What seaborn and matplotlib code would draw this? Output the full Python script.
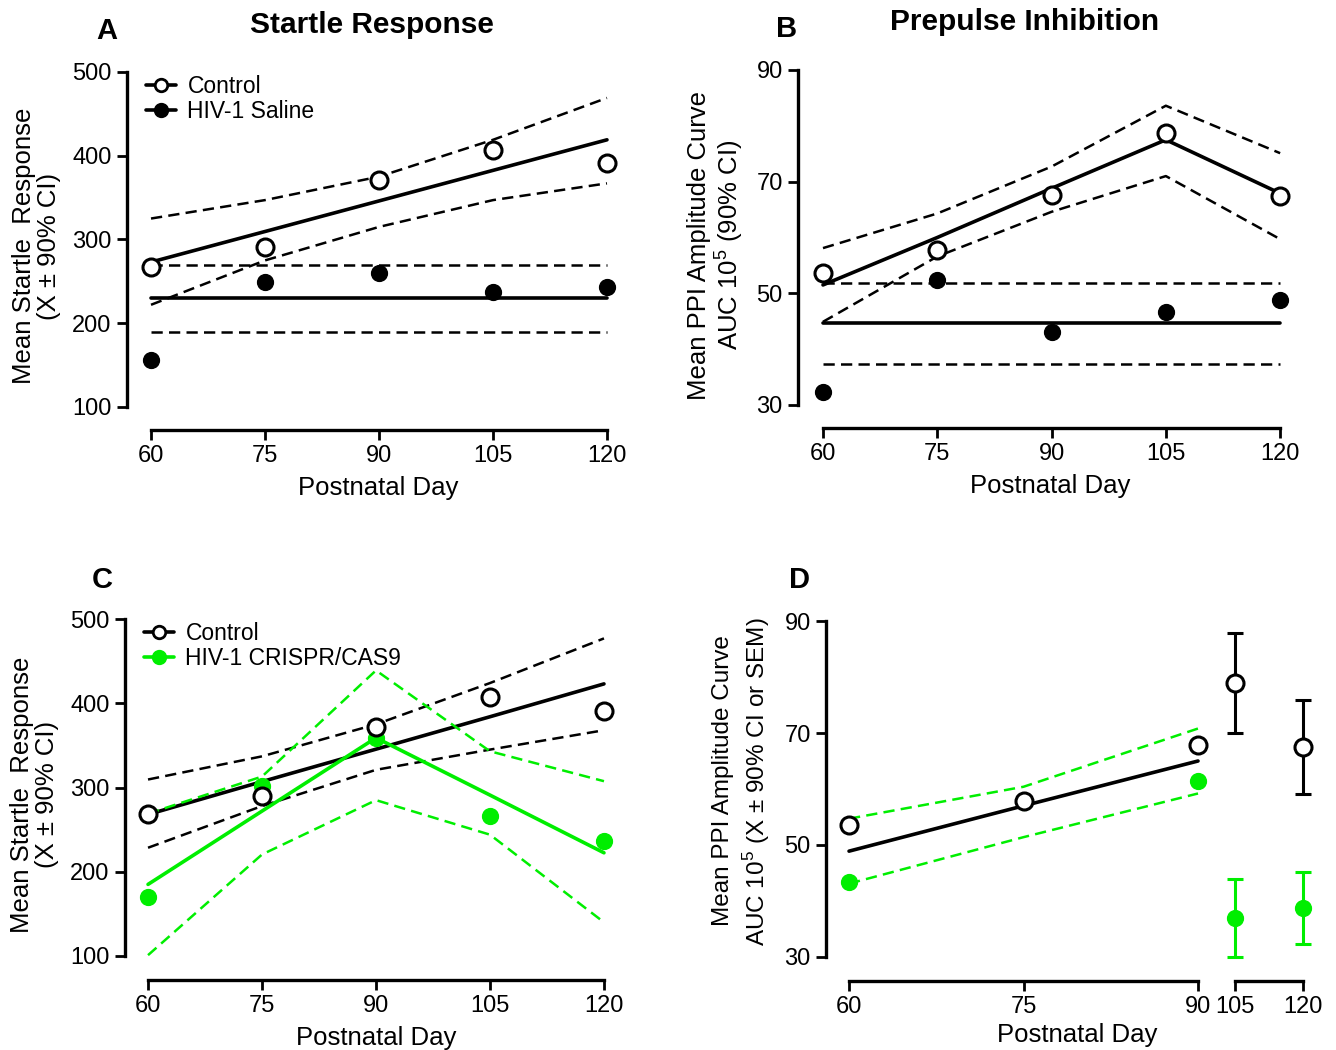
import numpy as np
import pandas as pd
import matplotlib
matplotlib.use("Agg")
import matplotlib.pyplot as plt
from matplotlib.lines import Line2D
import seaborn as sns

# ---- data ----
days = [60, 75, 90, 105, 120]

# Panel A: startle response, control vs HIV-1 saline
a_control = [267, 291, 371, 407, 391]
a_control_fit = [273, 309.5, 346, 382.5, 419]
a_control_hi = [325, 347, 375, 419, 469]
a_control_lo = [222, 275, 315, 347, 367]
a_saline = [156, 249, 260, 237, 243]
a_saline_fit = [230, 230, 230, 230, 230]
a_saline_hi = [270, 270, 270, 270, 270]
a_saline_lo = [190, 190, 190, 190, 190]

# Panel B: prepulse inhibition, control vs HIV-1 saline
b_control = [53.6, 57.8, 67.6, 78.8, 67.4]
b_control_fit = [51.5, 60.0, 68.8, 77.5, 67.9]
b_control_hi = [58.1, 64.3, 72.7, 83.6, 75.1]
b_control_lo = [44.9, 56.6, 64.6, 71.0, 59.7]
b_saline = [32.4, 52.3, 43.0, 46.7, 48.8]
b_saline_fit = [44.6, 44.6, 44.6, 44.6, 44.6]
b_saline_hi = [51.9, 51.9, 51.9, 51.9, 51.9]
b_saline_lo = [37.3, 37.3, 37.3, 37.3, 37.3]

# Panel C: startle response, control vs HIV-1 CRISPR/CAS9
c_control = [268, 290.5, 372, 407.5, 390.5]
c_control_fit = [268, 307, 345.5, 384, 423]
c_control_hi = [309.5, 337, 375, 424, 477]
c_control_lo = [228.5, 278, 321, 345, 368]
c_crispr = [170, 302, 359, 266, 237]
c_crispr_fit = [185, 272, 359, 291, 222.5]
c_crispr_hi = [269, 313, 439, 343, 307.5]
c_crispr_lo = [101, 220.5, 285, 244, 140]

# Panel D: PPI, broken axis (60-90 regression, 105/120 mean +/- SEM)
d_days_fit = [60, 75, 90]
d_days_late = [105, 120]
d_control = [53.5, 57.9, 67.8]
d_control_fit = [48.9, 57.0, 65.0]
d_crispr = [43.4, 57.7, 61.4]
d_crispr_hi = [54.7, 60.4, 70.8]
d_crispr_lo = [43.1, 51.4, 59.2]
d_control_late = [78.9, 67.5]
d_control_late_err = [8.9, 8.4]
d_crispr_late = [37.0, 38.7]
d_crispr_late_err = [7.0, 6.4]

GREEN = "#00ee00"
W, H = 1336, 1050

sns.set_style("ticks")
plt.rcParams["font.family"] = ["Liberation Sans", "DejaVu Sans"]
plt.rcParams["mathtext.fontset"] = "custom"
plt.rcParams["mathtext.rm"] = "Liberation Sans"
for key in ["text.color", "axes.labelcolor", "xtick.color", "ytick.color", "axes.edgecolor"]:
    plt.rcParams[key] = "black"

fig = plt.figure(figsize=(W / 100, H / 100), dpi=100)


def add_ax(left, right, top, bottom):
    return fig.add_axes([left / W, 1 - bottom / H, (right - left) / W, (bottom - top) / H])


def style_ax(ax, xticks, yticks, left_spine=True):
    ax.set_xticks(xticks)
    ax.set_yticks(yticks)
    ax.spines["top"].set_visible(False)
    ax.spines["right"].set_visible(False)
    ax.spines["bottom"].set_bounds(xticks[0], xticks[-1])
    ax.spines["bottom"].set_linewidth(2.4)
    ax.spines["left"].set_linewidth(2.4)
    ax.tick_params(axis="both", length=7, width=2, labelsize=17, pad=4)
    if left_spine:
        ax.spines["left"].set_bounds(yticks[0], yticks[-1])
    else:
        ax.spines["left"].set_visible(False)
        ax.tick_params(axis="y", left=False, labelleft=False)


def band(ax, x, fit, hi, lo, color):
    sns.lineplot(x=x, y=fit, ax=ax, color=color, lw=2.6, zorder=2)
    for b in (hi, lo):
        sns.lineplot(x=x, y=b, ax=ax, color=color, lw=1.8, zorder=2,
                     linestyle=(0, (4.5, 2.5)))


def points(ax, x, y, color, hollow):
    if hollow:
        sns.scatterplot(x=x, y=y, ax=ax, s=150, facecolor="white",
                        edgecolor=color, linewidth=2.2, zorder=5)
    else:
        sns.scatterplot(x=x, y=y, ax=ax, s=130, color=color,
                        edgecolor=color, linewidth=1, zorder=5)


def legend(ax, labels, colors, hollow):
    handles = []
    for lab, c, h in zip(labels, colors, hollow):
        handles.append(Line2D([0], [0], color=c, lw=2.6, marker="o", markersize=9,
                              markerfacecolor="white" if h else c,
                              markeredgecolor=c, markeredgewidth=2, label=lab))
    ax.legend(handles=handles, loc="upper left", frameon=False, fontsize=16.5,
              handlelength=1.3, handletextpad=0.5, labelspacing=0.1,
              borderaxespad=0.0, bbox_to_anchor=(0.02, 0.99))


# ---- Panel A ----
axA = add_ax(127, 630, 62, 430)
band(axA, days, a_control_fit, a_control_hi, a_control_lo, "black")
band(axA, days, a_saline_fit, a_saline_hi, a_saline_lo, "black")
points(axA, days, a_control, "black", True)
points(axA, days, a_saline, "black", False)
axA.set_xlim(56.84, 123.03)
axA.set_ylim(72.5, 511.9)
style_ax(axA, days, [100, 200, 300, 400, 500])
axA.set_xlabel("Postnatal Day", fontsize=18.5, labelpad=6)
axA.set_ylabel("Mean Startle  Response\n(X \u00b1 90% CI)", fontsize=18.5, labelpad=8,
               linespacing=1.05)
legend(axA, ["Control", "HIV-1 Saline"], ["black", "black"], [True, False])

# ---- Panel B ----
axB = add_ax(798, 1303, 62, 428)
band(axB, days, b_control_fit, b_control_hi, b_control_lo, "black")
band(axB, days, b_saline_fit, b_saline_hi, b_saline_lo, "black")
points(axB, days, b_control, "black", True)
points(axB, days, b_saline, "black", False)
axB.set_xlim(56.72, 123.0)
axB.set_ylim(25.88, 91.43)
style_ax(axB, days, [30, 50, 70, 90])
axB.set_xlabel("Postnatal Day", fontsize=18.5, labelpad=6)
axB.set_ylabel("Mean PPI Amplitude Curve\nAUC 10$^5$ (90% CI)", fontsize=18.5, labelpad=8,
               linespacing=1.05)

# ---- Panel C ----
axC = add_ax(125, 627, 609, 980)
band(axC, days, c_control_fit, c_control_hi, c_control_lo, "black")
band(axC, days, c_crispr_fit, c_crispr_hi, c_crispr_lo, GREEN)
points(axC, days, c_crispr, GREEN, False)
points(axC, days, c_control, "black", True)
axC.set_xlim(56.97, 123.03)
axC.set_ylim(71.5, 511.9)
style_ax(axC, days, [100, 200, 300, 400, 500])
axC.set_xlabel("Postnatal Day", fontsize=18.5, labelpad=6)
axC.set_ylabel("Mean Startle  Response\n(X \u00b1 90% CI)", fontsize=18.5, labelpad=8,
               linespacing=1.05)
legend(axC, ["Control", "HIV-1 CRISPR/CAS9"], ["black", GREEN], [True, False])

# ---- Panel D (broken x axis) ----
axD1 = add_ax(826, 1215, 611, 981)
axD2 = add_ax(1222, 1320, 611, 981)
sns.lineplot(x=d_days_fit, y=d_control_fit, ax=axD1, color="black", lw=2.6, zorder=2)
for b in (d_crispr_hi, d_crispr_lo):
    sns.lineplot(x=d_days_fit, y=b, ax=axD1, color=GREEN, lw=1.8, zorder=2,
                 linestyle=(0, (4.5, 2.5)))
points(axD1, d_days_fit, d_crispr, GREEN, False)
points(axD1, d_days_fit, d_control, "black", True)
axD1.set_xlim(58.02, 91.46)
axD1.set_ylim(25.71, 91.79)
style_ax(axD1, d_days_fit, [30, 50, 70, 90])

axD2.errorbar(d_days_late, d_control_late, yerr=d_control_late_err, fmt="none",
              ecolor="black", elinewidth=2.2, capsize=6, capthick=2.2, zorder=3)
axD2.errorbar(d_days_late, d_crispr_late, yerr=d_crispr_late_err, fmt="none",
              ecolor=GREEN, elinewidth=2.2, capsize=6, capthick=2.2, zorder=3)
points(axD2, d_days_late, d_control_late, "black", True)
points(axD2, d_days_late, d_crispr_late, GREEN, False)
axD2.set_xlim(102.13, 123.75)
axD2.set_ylim(25.71, 91.79)
style_ax(axD2, d_days_late, [30, 50, 70, 90], left_spine=False)
for ax in (axD1, axD2):
    ax.set_facecolor("none")
fig.text(1077 / W, 1 - 1035 / H, "Postnatal Day", fontsize=18.5, ha="center", va="center")
fig.text(723 / W, 1 - 781 / H, "Mean PPI Amplitude Curve", fontsize=17.5,
         rotation=90, ha="center", va="center")
fig.text(757 / W, 1 - 782 / H, "AUC 10$^5$ (X \u00b1 90% CI or SEM)", fontsize=17.5,
         rotation=90, ha="center", va="center")

# ---- titles and panel letters ----
fig.text(372 / W, 1 - 25 / H, "Startle Response", fontsize=21.5, fontweight="bold",
         ha="center", va="center")
fig.text(1025 / W, 1 - 22 / H, "Prepulse Inhibition", fontsize=21.5, fontweight="bold",
         ha="center", va="center")
for lab, x, y in [("A", 107, 31), ("B", 787, 29), ("C", 102, 580), ("D", 800, 580)]:
    fig.text(x / W, 1 - y / H, lab, fontsize=21, fontweight="bold", ha="center", va="center")

fig.savefig("out.png", dpi=100, facecolor="white")
